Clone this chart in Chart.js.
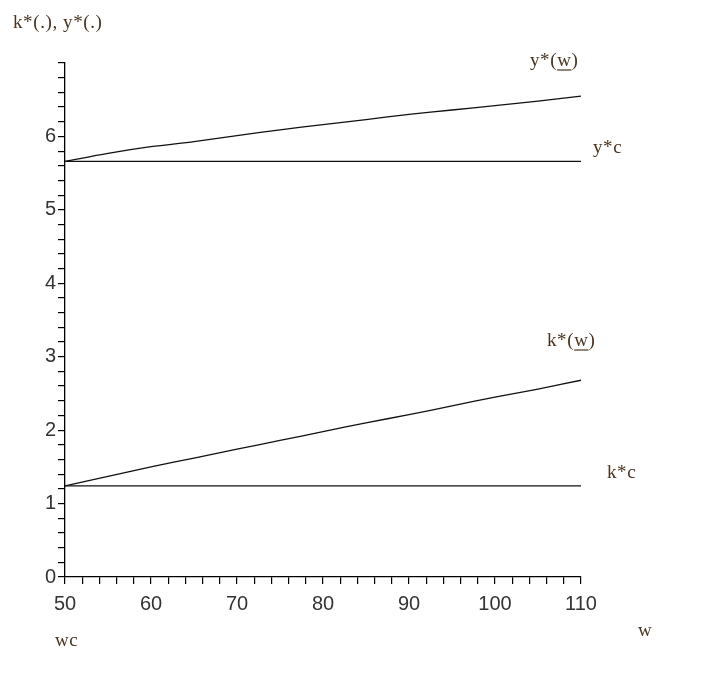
<!DOCTYPE html>
<html>
<head>
<meta charset="utf-8">
<script src="https://cdn.jsdelivr.net/npm/chart.js@4"></script>
<style>
html,body{margin:0;padding:0;background:#fff;}
#wrap{width:709px;height:697px;position:relative;}
</style>
</head>
<body>
<div id="wrap"><canvas id="c" width="709" height="697"></canvas></div>
<script>
// Data
const wValues   = [50, 55, 60, 65, 70, 75, 80, 85, 90, 95, 100, 105, 110];
const yStarW    = [5.66, 5.77, 5.86, 5.93, 6.01, 6.09, 6.16, 6.23, 6.30, 6.36, 6.42, 6.48, 6.55];
const kStarW    = [1.24, 1.37, 1.50, 1.62, 1.74, 1.86, 1.98, 2.10, 2.21, 2.33, 2.45, 2.56, 2.68];
const yStarC    = 5.66;
const kStarC    = 1.24;
const xTickLabels = [50, 60, 70, 80, 90, 100, 110];
const yTickLabels = [0, 1, 2, 3, 4, 5, 6];

const toPts = (arr) => wValues.map((w, i) => ({x: w, y: arr[i]}));
const flat = (v) => [{x: wValues[0], y: v}, {x: wValues[wValues.length - 1], y: v}];

const txtColor = '#4a3420';
const labelsPlugin = {
  id: 'labels',
  afterDraw(chart) {
    const ctx = chart.ctx;
    ctx.save();
    ctx.fillStyle = txtColor;
    ctx.strokeStyle = txtColor;
    ctx.font = '19px "Liberation Serif", serif';
    try { ctx.letterSpacing = '0.6px'; } catch (e) {}
    ctx.textBaseline = 'alphabetic';
    ctx.textAlign = 'left';
    const put = (t, x, y, ulText) => {
      ctx.fillText(t, x, y);
      if (ulText) {
        const pre = t.slice(0, t.indexOf(ulText));
        const x0 = x + ctx.measureText(pre).width;
        const x1 = x0 + ctx.measureText(ulText).width;
        ctx.lineWidth = 1.2;
        ctx.beginPath();
        ctx.moveTo(x0, y + 4);
        ctx.lineTo(x1, y + 4);
        ctx.stroke();
      }
    };
    put('k*(.), y*(.)', 13, 28);
    put('y*(w)', 530, 66, 'w');
    put('y*c', 593, 153);
    put('k*(w)', 547, 346, 'w');
    put('k*c', 607, 478);
    put('wc', 55, 646);
    put('w', 638, 636);
    ctx.restore();
  }
};

new Chart(document.getElementById('c'), {
  type: 'line',
  data: {
    datasets: [
      {data: toPts(yStarW)},
      {data: flat(yStarC)},
      {data: toPts(kStarW)},
      {data: flat(kStarC)}
    ].map(d => Object.assign(d, {
      borderColor: '#111', borderWidth: 1.3, pointRadius: 0, tension: 0.3, fill: false
    }))
  },
  options: {
    responsive: false,
    animation: false,
    devicePixelRatio: 1,
    layout: {padding: {left: 0, top: 63, right: 128, bottom: 0}},
    plugins: {legend: {display: false}, tooltip: {enabled: false}},
    scales: {
      x: {
        type: 'linear', min: 50, max: 110,
        afterFit(s) { s.height = 120; },
        border: {display: true, color: '#000', width: 1.3},
        grid: {drawOnChartArea: false, drawTicks: true, tickLength: 7, color: '#000', lineWidth: 1.2},
        ticks: {
          stepSize: 2, autoSkip: false, maxRotation: 0, padding: 8,
          color: '#333', font: {family: '"Liberation Sans", Arial, sans-serif', size: 20},
          callback: (v) => {
            const r = Math.round(v);
            return Math.abs(v - r) < 1e-6 && xTickLabels.includes(r) ? String(r) : '';
          }
        }
      },
      y: {
        type: 'linear', min: 0, max: 7,
        afterFit(s) { s.width = 65; },
        border: {display: true, color: '#000', width: 1.3},
        grid: {drawOnChartArea: false, drawTicks: true, tickLength: 7, color: '#000', lineWidth: 1.2},
        ticks: {
          stepSize: 0.2, autoSkip: false, padding: 2,
          color: '#333', font: {family: '"Liberation Sans", Arial, sans-serif', size: 20},
          callback: (v) => {
            const r = Math.round(v);
            return Math.abs(v - r) < 1e-6 && yTickLabels.includes(r) ? String(r) : '';
          }
        }
      }
    }
  },
  plugins: [labelsPlugin]
});
</script>
</body>
</html>
